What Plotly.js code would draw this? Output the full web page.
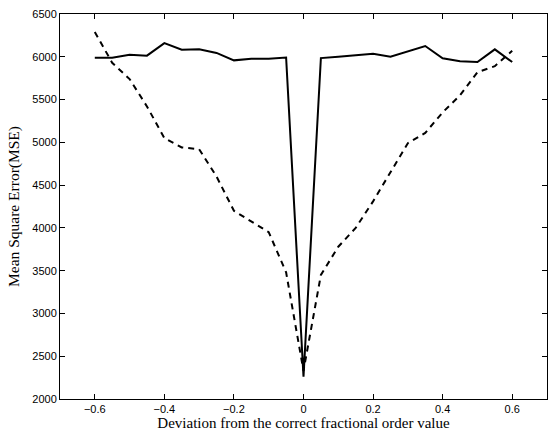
<!DOCTYPE html>
<html>
<head>
<meta charset="utf-8">
<script src="https://cdn.plot.ly/plotly-3.0.1.min.js"></script>
<style>html,body{margin:0;padding:0;background:#fff;}#chart{width:548px;height:433px;}</style>
</head>
<body>
<div id="chart"></div>
<script>
const deviation = [-0.6,-0.55,-0.5,-0.45,-0.4,-0.35,-0.3,-0.25,-0.2,-0.15,-0.1,-0.05,0,0.05,0.1,0.15,0.2,0.25,0.3,0.35,0.4,0.45,0.5,0.55,0.6];
const mseSolid = [5990,5990,6025,6013,6160,6083,6088,6045,5958,5978,5978,5992,2260,5985,6000,6020,6035,6000,6064,6126,5982,5947,5939,6087,5939];
const mseDashed = [6290,5930,5740,5420,5050,4940,4920,4600,4200,4070,3950,3480,2330,3450,3780,4000,4310,4650,4990,5110,5350,5550,5820,5890,6070];
const xTicks = [-0.6,-0.4,-0.2,0,0.2,0.4,0.6];
const yTicks = [2000,2500,3000,3500,4000,4500,5000,5500,6000,6500];

const traces = [
  {x: deviation, y: mseSolid, type: 'scatter', mode: 'lines', line: {color: '#000', width: 2}},
  {x: deviation, y: mseDashed, type: 'scatter', mode: 'lines', line: {color: '#000', width: 2, dash: '6px,5px'}}
];
const axisCommon = {
  showgrid: false, zeroline: false, showline: true, mirror: 'ticks',
  linecolor: '#000', linewidth: 1, ticks: 'inside', ticklen: 5, tickcolor: '#000',
  tickfont: {family: 'Liberation Sans, Arial, sans-serif', size: 11, color: '#000'}
};
const layout = {
  width: 548, height: 433,
  margin: {l: 60, r: 1, t: 14, b: 34},
  paper_bgcolor: '#fff', plot_bgcolor: '#fff',
  showlegend: false,
  xaxis: Object.assign({}, axisCommon, {
    range: [-0.7, 0.7], tickvals: xTicks, ticktext: xTicks.map(v => v === 0 ? '0' : String(v).replace('-', '\u2212')),
    title: {text: 'Deviation from the correct fractional order value', font: {family: 'Liberation Serif, Times New Roman, serif', size: 15, color: '#000'}, standoff: 2}
  }),
  yaxis: Object.assign({}, axisCommon, {
    range: [2000, 6500], tickvals: yTicks, ticktext: yTicks.map(String),
    title: {text: 'Mean Square Error(MSE)', font: {family: 'Liberation Serif, Times New Roman, serif', size: 15.5, color: '#000'}, standoff: 8}
  })
};
Plotly.newPlot('chart', traces, layout, {displayModeBar: false, staticPlot: true});
</script>
</body>
</html>
